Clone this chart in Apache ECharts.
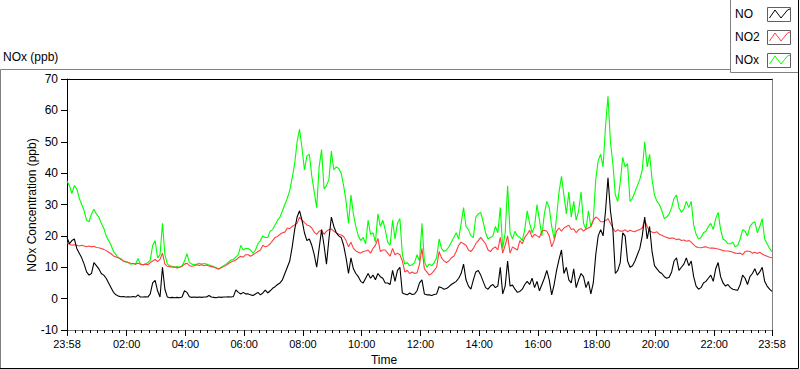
<!DOCTYPE html>
<html><head><meta charset="utf-8">
<script src="https://cdn.jsdelivr.net/npm/echarts@6/dist/echarts.min.js"></script>
<style>html,body{margin:0;padding:0;background:#fff}#c{width:800px;height:369px}</style>
</head><body><div id="c"></div>
<script>
// Time axis: minutes relative to 00:00; first sample at 23:58 (previous day), one sample every 5 minutes
const startMinute = -2;
const stepMinutes = 5;
const seriesNames = ['NO', 'NO2', 'NOx'];
const seriesColors = ['#000000', '#ff4040', '#00ff00'];

const nox = [
 37.5,36,33.5,36,35,32,30,28,25,24.5,
 27,28.5,27,26,24,22.5,20,18.5,17,15,
 14,13,12.8,12,11.7,11.5,11,11.2,11,12.8,
 11,10.7,11,11.5,12.3,17,18.5,13,14,24,
 14,11,10.5,10.3,10,10.2,10,10.5,12,14.3,
 11.5,11,10.8,11,11.3,11,11.2,11,10.7,10.5,
 10.2,9.8,9.5,10,10.5,11,11.7,12.3,12.5,13.3,
 14,17,15.5,16,
 16,15.5,14.5,15.5,17.5,18.5,
 20,19.5,19.5,21.5,22,23.5,25,26,28,30,
 32,34.5,38.5,43,50,54,48,41,45.5,46,
 39,34,29,42,47.5,35,36,38,47,41,
 42,41.5,40,36,31,24,33,27,23,20,
 18.5,19.5,17.5,25,20.5,21,18,27,23,25,
 22,18,17,25,19,24,25.5,14,11,11.5,
 10.5,10.8,11.5,14,12,24,
 12,10,11,10.5,
 11.5,13,19,16,15,15.5,16.5,18,19.5,21,
 19,24,29,23,22,20,19.5,26,27,27.5,
 24.5,21,19,19.5,20,23,21,29,16,21,
 36,21,19,21.5,20,19.5,18.5,22,28,24,
 21,23,30,25,20,27,31,29,23,19,
 26,34,39,33,27,34,26,31,25,28,
 34,24,22,28,23,25,38,44,46,42,
 55,64.5,50,43,33,31,37,45,42,43,
 31,32,34,36,38,41,50,42,46,38,
 33,31,30,28,25.5,26,27,29,32,33,
 29,27.5,28.5,31,29,31,23.5,20.5,19,19.5,
 21,21.5,23,24,22,25.5,27.5,22,19,18.5,
 17.5,17.5,18,16.5,17,19,22,21.5,20,23,
 24,24.5,21,23,25.5,19,17.5,16,15
];

const no2 = [
 17.8,17.3,17,17.2,17,16.8,17,16.8,16.5,16.8,
 16.5,16.7,16.3,16.2,16,15.7,15.3,14.8,14.3,13.6,
 13.3,13,12.5,12,11.8,11.5,11.3,11.2,11,11.3,
 11,10.8,11,10.8,11.5,12,12.5,11.8,12.5,14.5,
 11,10.3,10.2,10,10.1,9.8,10,10.3,11,11.3,
 10.5,10.3,10.5,10.8,10.6,10.8,10.5,10.7,10.4,10.2,
 10,9.7,9.4,9.8,10.2,10.6,11.2,11.7,12,12.3,
 13,13.5,13.2,14,
 14,13.5,14,14.5,15,15.5,
 17,16.5,16.8,17.5,18.5,19.5,19.8,20.5,21,21.2,
 22.5,22.3,23,23.5,24,26,25,24.2,23.5,23.2,
 22.5,21.2,20.5,21.5,21.8,20.5,21.5,22,22.2,21.5,
 21,20.5,20.3,19.8,18.5,16.5,18,16,15.2,14.8,
 14.5,15,15.2,15.5,14.5,16,17,19.2,15,15.5,
 15.5,14.5,13.5,16,14,14.5,14,12,8.5,9,
 8,8.5,8,8.2,11,16,
 9.5,8.5,7.5,8,
 9,10,15,13,12,11.5,12,13,13.5,15,
 17,18,17.5,17,15.5,15,16,17.5,18.5,19.5,
 18.5,17.5,15.5,15,16,16.5,15.5,19.5,14.5,17,
 20,14.5,16.5,16,15.5,18.5,17.5,19.5,20.5,21.8,
 19.5,20.5,20,19.5,21.5,21.8,21.5,20,16.5,18.5,
 21.5,22.5,21.5,22.5,23,23.4,22,22.3,21,22,
 22.3,21.5,22.2,22.5,23,25,26,25.5,24.5,24.5,
 24.8,25.5,24,22.5,21.3,22,21.5,21.5,22,21.3,
 21.8,21.5,21.3,21.8,22,22.5,25,23,21.5,21.2,
 21,21.3,20.5,20.2,19.8,19.5,19.2,19.3,19.2,18.8,
 19,18.5,18.7,18.3,18.5,18,17.2,16.5,16.3,16.2,
 16.4,16.5,16.2,16.1,16.1,16,15.8,15.6,15.3,15.2,
 15.2,15,14.8,14.5,14.4,14.5,14,15,15.2,15,
 14.5,14.8,14.4,14.8,14.2,13.8,13.5,13.2,13
];

const no = [
 19.5,17.5,18.5,19,16,14.5,13,11,8.5,7.5,
 8,11.5,10.5,9.5,8,7.5,6.5,5,3.5,2,
 1.2,0.8,0.6,0.7,0.5,0.6,0.5,0.7,0.5,1.2,
 0.5,0.5,0.6,0.5,1.5,5,5.8,2.5,0.5,10,
 3,0.5,0.3,0.4,0.3,0.4,0.3,0.5,2.5,2,
 0.6,0.4,0.5,0.4,0.5,0.4,0.5,0.5,1,0.5,
 0.4,0.3,0.5,0.4,0.5,0.5,0.6,0.5,0.7,2.8,
 2,1.5,2,1.5,
 1.5,1.2,1,1.5,2,1.2,
 1.8,2.7,1.8,2.5,3.3,3.8,4.5,5,6,8,
 10,12,16.5,22,26,28,25,21,18.5,19,
 17,14,10,16,22,17,11,19,26,23,
 21,20,19.5,17,13,8,13,9.5,8,7,
 5.5,5,6.5,8,6.5,7.5,6,8,7,6.5,
 5,5,4.5,9,5.5,9,10,1.8,1.5,1.2,
 1.8,1.3,1.5,2.5,5,6,
 1.5,1.2,1.2,1,
 1.3,1.5,3.8,3.5,3,3.2,3.8,4.5,5,5.5,
 6.5,8,11,6,4,3,6,8.5,9,7.5,
 5.5,3.5,3,4,4.5,3.5,4,10,1.5,4,
 12,4,4.3,3,2,2.3,3,4.5,5.5,4.5,
 6.5,3.5,5.5,2.5,4.5,6.5,9,6,1.2,4.5,
 9,12.5,15.5,8,10,6,5,9.5,3.5,6,
 8,7,3.5,5.5,1.5,5,14,20,22,20,
 28,38.5,28,22,8,9,11.5,21,20,12,
 10,10.5,12,14,16,20,26,19,23,15,
 10.5,9.5,8.5,8,7,6.5,6.8,8.5,12,13,
 9,10,11,13,10.5,12,7,4,3,3.5,
 5,5.5,6.5,7.5,5.5,9.5,11.5,7,5,4,
 4.5,3.5,3,2.8,2.7,4.5,7.5,6.5,4.5,7,
 8,9.5,7.5,8.5,10,5.5,4,3,2.3
];

const xTickValues = [-2,120,240,360,480,600,720,840,960,1080,1200,1320,1438];
const xTickLabels = ['23:58','02:00','04:00','06:00','08:00','10:00','12:00','14:00','16:00','18:00','20:00','22:00','23:58'];
const yMin = -10, yMax = 70, yStep = 10;
const yTitle = 'NOx Concentration (ppb)';
const xTitle = 'Time';
const chartTitle = 'NOx (ppb)';

const FONT = '"Liberation Sans", Arial, sans-serif';
const xMinor = [];
for (let m = 15; m < 1438; m += 15) if (m % 120 !== 0) xMinor.push(m);

const xs = no.map((_, i) => startMinute + stepMinutes * i);
const pair = arr => arr.map((v, i) => [xs[i], v]);
const dataByName = { 'NO': no, 'NO2': no2, 'NOx': nox };

const chart = echarts.init(document.getElementById('c'), null, { renderer: 'svg' });

const drawOrder = ['NOx', 'NO2', 'NO'];
const series = drawOrder.map(name => ({
  name, type: 'line', xAxisIndex: 0, yAxisIndex: 0,
  data: pair(dataByName[name]), showSymbol: false, symbol: 'none',
  lineStyle: { width: 1.1, color: seriesColors[seriesNames.indexOf(name)] },
  itemStyle: { color: seriesColors[seriesNames.indexOf(name)] },
  emphasis: { disabled: true }, silent: true
}));

// legend drawn LabVIEW-style: name, then a boxed zig-zag swatch
const legendGraphics = [];
seriesNames.forEach((name, k) => {
  const top = 7 + 23 * k;
  legendGraphics.push({ type: 'text', x: 735, y: top + 7, style: { text: name, font: '12px ' + FONT, fill: '#000', verticalAlign: 'middle' } });
  legendGraphics.push({ type: 'rect', shape: { x: 767.5, y: top + 0.5, width: 23, height: 14 }, style: { fill: '#fff', stroke: '#606060', lineWidth: 1 } });
  legendGraphics.push({ type: 'polyline', shape: { points: [[769.5, top + 11], [775, top + 3], [781, top + 11], [787.5, top + 3], [790, top + 2]] }, style: { stroke: seriesColors[k], lineWidth: 1, fill: null } });
});

const option = {
  animation: false,
  backgroundColor: '#ffffff',
  textStyle: { fontFamily: FONT },
  grid: { left: 67, right: 28, top: 79, bottom: 39 },
  xAxis: [
    { type: 'value', min: xTickValues[0], max: xTickValues[xTickValues.length - 1], position: 'bottom',
      axisLine: { show: true, onZero: false, lineStyle: { color: '#808080', width: 1 } },
      axisTick: { show: true, customValues: xTickValues, length: 6, lineStyle: { color: '#000', width: 1 } },
      axisLabel: { show: true, customValues: xTickValues, fontSize: 11, color: '#000', margin: 8, fontFamily: FONT,
        formatter: v => { const i = xTickValues.indexOf(v); return i >= 0 ? xTickLabels[i] : ''; } },
      splitLine: { show: false } },
    { type: 'value', min: xTickValues[0], max: xTickValues[xTickValues.length - 1], position: 'bottom',
      axisLine: { show: false, onZero: false },
      axisTick: { show: true, customValues: xMinor, length: 3, lineStyle: { color: '#000', width: 1 } },
      axisLabel: { show: false }, splitLine: { show: false } },
    { type: 'value', min: xTickValues[0], max: xTickValues[xTickValues.length - 1], position: 'top',
      axisLine: { show: true, onZero: false, lineStyle: { color: '#000', width: 1 } },
      axisTick: { show: false }, axisLabel: { show: false }, splitLine: { show: false } }
  ],
  yAxis: [
    { type: 'value', min: yMin, max: yMax, interval: yStep, position: 'left',
      axisLine: { show: true, onZero: false, lineStyle: { color: '#000', width: 1 } },
      axisTick: { show: true, length: 6, lineStyle: { color: '#000', width: 1 } },
      axisLabel: { fontSize: 12, color: '#000', margin: 9, fontFamily: FONT },
      splitLine: { show: false } },
    { type: 'value', min: yMin, max: yMax, interval: yStep, position: 'right',
      axisLine: { show: true, onZero: false, lineStyle: { color: '#808080', width: 1 } },
      axisTick: { show: false }, axisLabel: { show: false }, splitLine: { show: false } }
  ],
  series,
  graphic: [
    // outer panel frame
    { type: 'polyline', shape: { points: [[0.5, 368], [0.5, 69.5], [730, 69.5]] }, style: { stroke: '#808080', lineWidth: 1, fill: null }, silent: true },
    { type: 'polyline', shape: { points: [[0, 368.5], [798.5, 368.5], [798.5, 0]] }, style: { stroke: '#000', lineWidth: 1, fill: null }, silent: true },
    // legend frame
    { type: 'polyline', shape: { points: [[730.5, 0], [730.5, 72.5], [798, 72.5]] }, style: { stroke: '#808080', lineWidth: 1, fill: null }, silent: true },
    ...legendGraphics,
    { type: 'text', x: 3, y: 57, style: { text: chartTitle, font: '12px ' + FONT, fill: '#000', verticalAlign: 'middle' } },
    { type: 'text', x: 32, y: 205, rotation: Math.PI / 2, style: { text: yTitle, font: '12px ' + FONT, fill: '#000', align: 'center', verticalAlign: 'middle' } },
    { type: 'text', x: 384, y: 360, style: { text: xTitle, font: '12px ' + FONT, fill: '#000', align: 'center', verticalAlign: 'middle' } }
  ]
};
chart.setOption(option);
</script></body></html>
